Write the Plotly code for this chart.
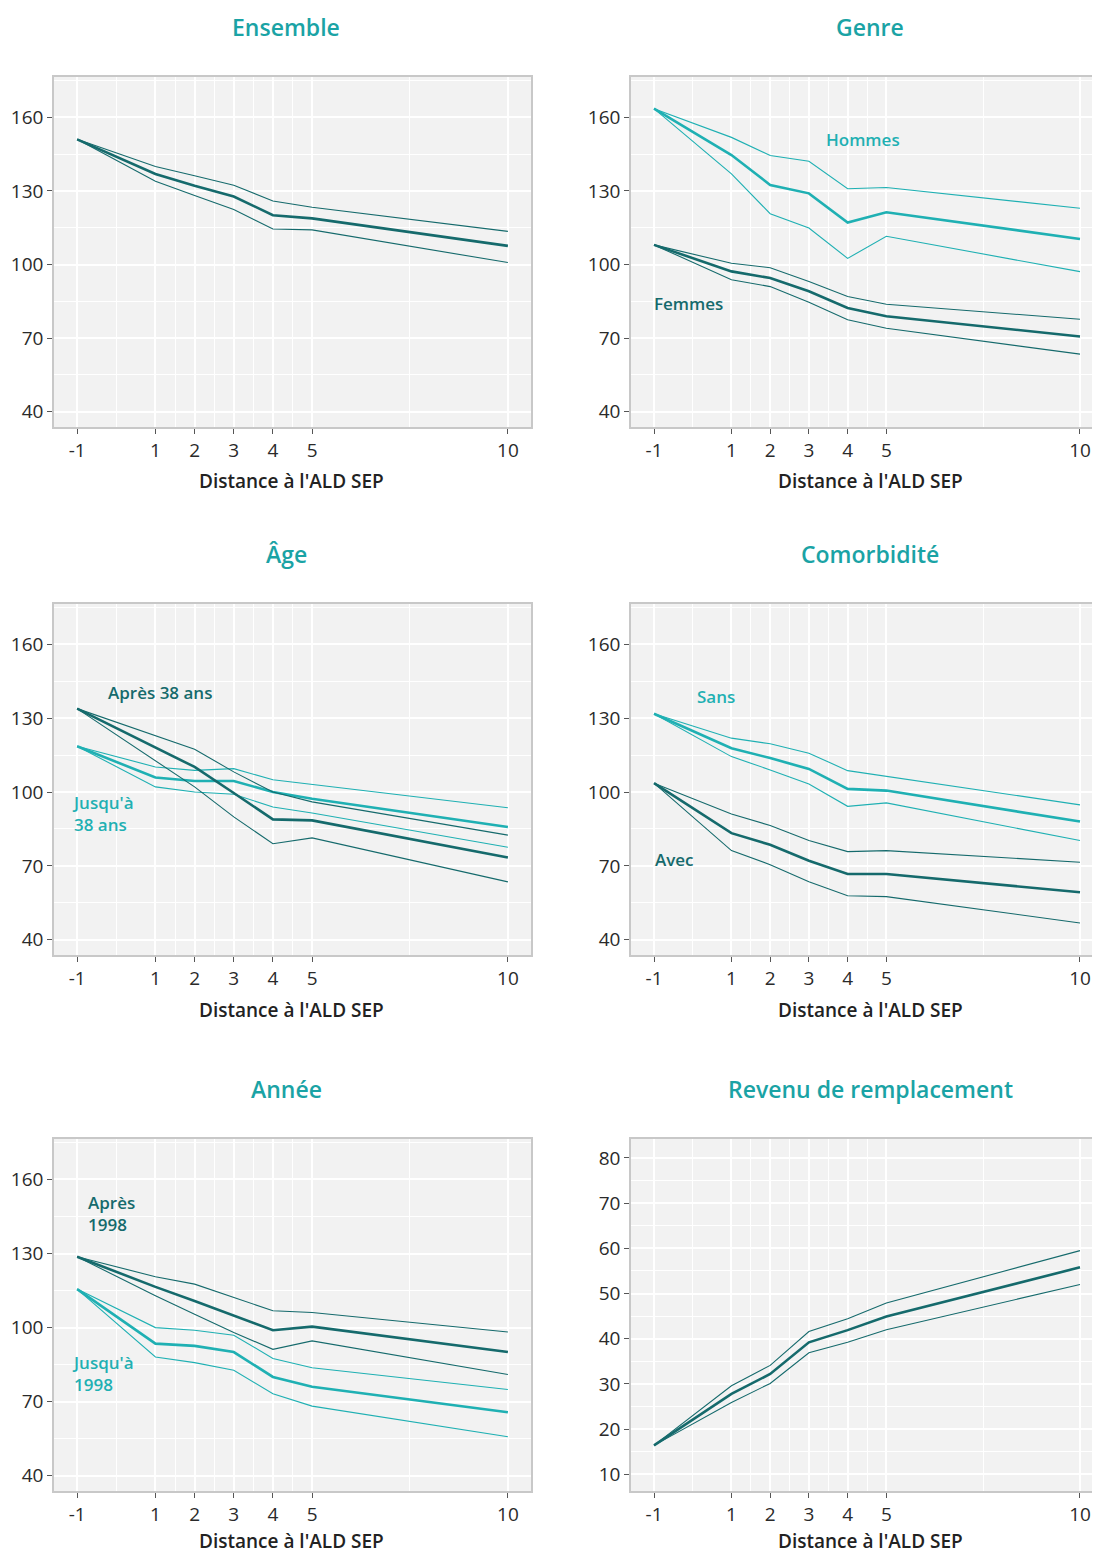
import plotly.graph_objects as go

# The page body has an 8px margin: the figure starts at (8, 8) in the
# window and is given the width that the page body offers.
OFF = 8
W, H = 1100 - 2 * OFF, 1554 - OFF

# ---------------- data ----------------
x_dist = [-1, 1, 2, 3, 4, 5, 10]
x_ticks = [-1, 1, 2, 3, 4, 5, 10]
x_minor = [0, 1.5, 2.5, 3.5, 4.5, 7.5]

ens_mid = [151.0, 136.9, 132.1, 127.7, 120.1, 118.8, 107.6]
ens_hi = [151.0, 139.9, 136.2, 132.3, 125.9, 123.3, 113.5]
ens_lo = [151.0, 133.9, 128.1, 122.4, 114.5, 114.1, 100.8]

hom_mid = [163.5, 144.6, 132.4, 129.0, 117.1, 121.3, 110.4]
hom_hi = [163.5, 151.8, 144.4, 142.1, 130.9, 131.4, 122.9]
hom_lo = [163.5, 136.9, 120.7, 114.9, 102.5, 111.5, 97.1]
fem_mid = [108.0, 97.2, 94.5, 89.1, 82.3, 78.9, 70.7]
fem_hi = [108.0, 100.5, 98.7, 93.1, 87.0, 83.8, 77.7]
fem_lo = [108.0, 93.8, 91.0, 84.6, 77.5, 74.0, 63.5]

apr38_mid = [133.9, 118.3, 110.2, 99.6, 88.9, 88.5, 73.4]
apr38_hi = [133.9, 122.8, 117.4, 108.2, 100.0, 96.0, 82.5]
apr38_lo = [133.9, 112.9, 102.1, 89.9, 79.0, 81.4, 63.5]
jus38_mid = [118.6, 105.9, 104.5, 104.5, 100.0, 97.3, 85.8]
jus38_hi = [118.6, 110.2, 108.8, 109.5, 105.0, 103.1, 93.6]
jus38_lo = [118.6, 102.1, 100.0, 99.1, 93.9, 91.5, 77.6]

sans_mid = [131.8, 117.8, 113.8, 109.4, 101.3, 100.6, 88.0]
sans_hi = [131.8, 121.9, 119.6, 115.8, 108.7, 106.4, 94.8]
sans_lo = [131.8, 114.4, 109.0, 103.3, 94.2, 95.6, 80.3]
avec_mid = [103.6, 83.3, 78.6, 72.1, 66.7, 66.7, 59.3]
avec_hi = [103.6, 91.1, 86.4, 80.3, 75.8, 76.2, 71.5]
avec_lo = [103.6, 76.2, 70.5, 63.6, 57.9, 57.5, 46.8]

apr98_mid = [128.7, 116.5, 110.8, 104.7, 98.9, 100.4, 90.1]
apr98_hi = [128.7, 120.6, 117.6, 112.2, 106.8, 106.1, 98.2]
apr98_lo = [128.7, 112.9, 105.4, 98.0, 91.2, 94.6, 81.0]
jus98_mid = [115.6, 93.5, 92.6, 90.1, 80.0, 76.0, 65.7]
jus98_hi = [115.6, 100.0, 98.9, 96.9, 87.5, 83.7, 74.9]
jus98_lo = [115.6, 88.1, 85.8, 82.7, 73.2, 68.2, 55.8]

rev_mid = [16.4, 27.8, 32.2, 39.2, 41.9, 44.9, 55.8]
rev_hi = [16.4, 29.6, 34.1, 41.6, 44.4, 47.9, 59.5]
rev_lo = [16.4, 25.9, 30.1, 36.9, 39.2, 42.0, 52.0]

y_ticks_main = [40, 70, 100, 130, 160]
y_minor_main = [55, 85, 115, 145, 175]
y_ticks_rev = [10, 20, 30, 40, 50, 60, 70, 80]
y_minor_rev = [15, 25, 35, 45, 55, 65, 75]

titles = ["Ensemble", "Genre", "Âge", "Comorbidité", "Année", "Revenu de remplacement"]
x_title = "Distance à l'ALD SEP"

# ---------------- style ----------------
DARK = "#156A6C"
LIGHT = "#1FB0B3"
TITLE_C = "#1AA3A5"
FONT = "Open Sans"
BG = "#F2F2F2"


def fx(px):
    return (px - OFF) / W


def fy(py):
    return 1 - (py - OFF) / H


fig = go.Figure()

# panel geometry (page pixels)
cols = [(54, 531), (631, 1100 - OFF)]
rows = [(77, 427), (604, 955), (1139, 1491)]
xr = [[-1.59, 10.59], [-1.594, 10.31]]
xtitle_y = [481, 1010, 1541]


def add_group(axn, lo, hi, mid, color):
    xa = "x" if axn == 1 else f"x{axn}"
    ya = "y" if axn == 1 else f"y{axn}"
    for vals, w in ((lo, 1.1), (hi, 1.1), (mid, 2.6)):
        fig.add_trace(go.Scatter(x=x_dist, y=vals, mode="lines",
                                 line=dict(color=color, width=w),
                                 xaxis=xa, yaxis=ya, showlegend=False,
                                 hoverinfo="skip"))


add_group(1, ens_lo, ens_hi, ens_mid, DARK)
add_group(2, hom_lo, hom_hi, hom_mid, LIGHT)
add_group(2, fem_lo, fem_hi, fem_mid, DARK)
add_group(3, jus38_lo, jus38_hi, jus38_mid, LIGHT)
add_group(3, apr38_lo, apr38_hi, apr38_mid, DARK)
add_group(4, sans_lo, sans_hi, sans_mid, LIGHT)
add_group(4, avec_lo, avec_hi, avec_mid, DARK)
add_group(5, jus98_lo, jus98_hi, jus98_mid, LIGHT)
add_group(5, apr98_lo, apr98_hi, apr98_mid, DARK)
add_group(6, rev_lo, rev_hi, rev_mid, DARK)

layout = {}
annotations = []
for i in range(6):
    r, c = divmod(i, 2)
    n = i + 1
    x0, x1 = cols[c]
    t, b = rows[r]
    xk = "xaxis" if n == 1 else f"xaxis{n}"
    yk = "yaxis" if n == 1 else f"yaxis{n}"
    ya_ref = "y" if n == 1 else f"y{n}"
    xa_ref = "x" if n == 1 else f"x{n}"
    layout[xk] = dict(
        domain=[fx(x0), min(1.0, fx(x1))], anchor=ya_ref, range=xr[c],
        tickmode="array", tickvals=x_ticks, ticktext=[str(v) for v in x_ticks],
        ticks="outside", ticklen=5, tickwidth=1, tickcolor="#555555",
        tickfont=dict(family=FONT, size=19, color="#2A2A2A"),
        showgrid=True, gridcolor="white", gridwidth=1.6, zeroline=False,
        minor=dict(tickmode="array", tickvals=x_minor, showgrid=True,
                   gridcolor="white", gridwidth=0.8, ticks=""),
        showline=True, linecolor="#C8C8C8", linewidth=1.5, mirror=True,
        fixedrange=True,
    )
    if n == 6:
        yrng, yt, ym = [6.3, 84.2], y_ticks_rev, y_minor_rev
    else:
        yrng, yt, ym = [33.8, 176.4], y_ticks_main, y_minor_main
    layout[yk] = dict(
        domain=[fy(b), fy(t)], anchor=xa_ref, range=yrng,
        tickmode="array", tickvals=yt, ticktext=[str(v) for v in yt],
        ticks="outside", ticklen=5, tickwidth=1, tickcolor="#555555",
        tickfont=dict(family=FONT, size=19, color="#2A2A2A"),
        showgrid=True, gridcolor="white", gridwidth=1.6, zeroline=False,
        minor=dict(tickmode="array", tickvals=ym, showgrid=True,
                   gridcolor="white", gridwidth=0.8, ticks=""),
        showline=True, linecolor="#C8C8C8", linewidth=1.5,
        mirror=(c == 0), fixedrange=True,
    )
    # subplot title
    cx = 286 if c == 0 else 870
    annotations.append(dict(
        text=titles[i], x=fx(cx), y=fy(t - 50), xref="paper", yref="paper",
        xanchor="center", yanchor="middle", showarrow=False,
        font=dict(family=FONT, size=23, color=TITLE_C, weight=600)))
    # x-axis title
    cx2 = 291 if c == 0 else 870
    annotations.append(dict(
        text=x_title, x=fx(cx2), y=fy(xtitle_y[r]), xref="paper", yref="paper",
        xanchor="center", yanchor="middle", showarrow=False,
        font=dict(family=FONT, size=19, color="#222222", weight=600)))

# series labels
def lab(text, x, y, axn, color, xanchor="center"):
    return dict(text=text, x=x, y=y, xref=f"x{axn}", yref=f"y{axn}",
                xanchor=xanchor, align="left", showarrow=False,
                font=dict(family=FONT, size=17, weight=600, color=color))


annotations += [
    lab("Hommes", 4.4, 151.0, 2, LIGHT),
    lab("Femmes", -0.11, 84.3, 2, DARK),
    lab("Après 38 ans", 1.12, 140.5, 3, DARK),
    lab("Jusqu'à<br>38 ans", -1.18, 91.2, 3, LIGHT, "left"),
    lab("Sans", 0.6, 138.8, 4, LIGHT),
    lab("Avec", -0.47, 72.5, 4, DARK),
    lab("Après<br>1998", -0.77, 146.2, 5, DARK, "left"),
    lab("Jusqu'à<br>1998", -1.18, 81.5, 5, LIGHT, "left"),
]

fig.update_layout(
    width=W, height=H, margin=dict(l=0, r=0, t=0, b=0),
    paper_bgcolor="white", plot_bgcolor=BG, showlegend=False,
    font=dict(family=FONT, color="#333333"),
    annotations=annotations, **layout)

fig.write_html("out.html")
